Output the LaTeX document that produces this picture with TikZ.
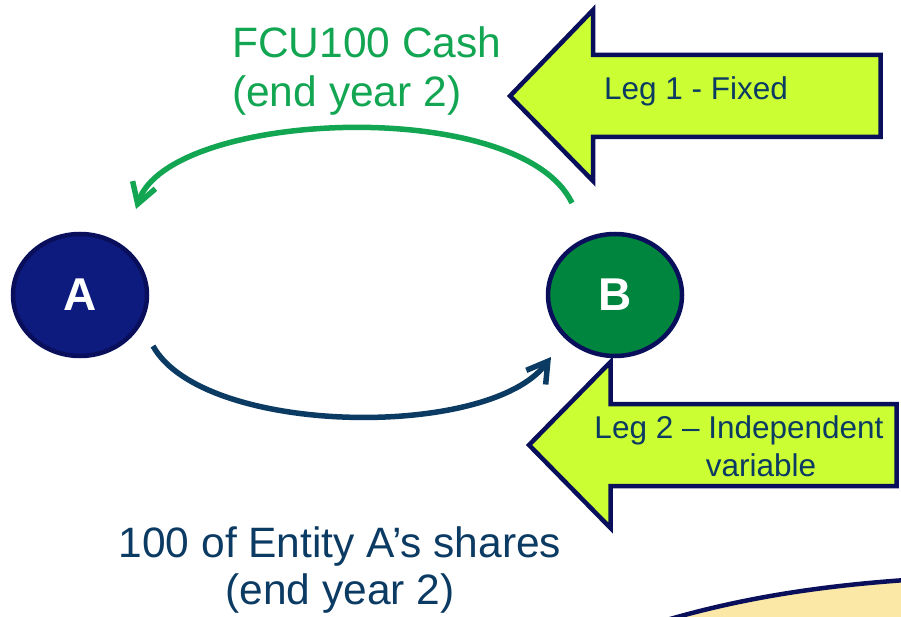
\documentclass[tikz,border=0pt]{standalone}
\usepackage{fontspec}
\setmainfont{Liberation Sans}
\usetikzlibrary{arrows.meta,shapes.geometric}
\definecolor{navyline}{HTML}{0A0F5C}
\definecolor{partyA}{HTML}{0D1A7E}
\definecolor{partyB}{HTML}{00853E}
\definecolor{cashgreen}{HTML}{12A552}
\definecolor{sharesblue}{HTML}{0B3A63}
\definecolor{leglime}{HTML}{CCFF33}
\definecolor{sandfill}{HTML}{FBE8A6}
\tikzset{
  party/.style={ellipse, draw=navyline, line width=4.5pt, minimum width=134pt,
    minimum height=122pt, inner sep=0pt, text=white,
    font=\fontsize{46}{50}\selectfont\bfseries},
  legarrow/.style={draw=navyline, fill=leglime, line width=4.5pt, line join=miter},
  legtext/.style={text=sharesblue, font=\fontsize{31.5}{36}\selectfont, inner sep=0pt},
  flowtext/.style={font=\fontsize{42.5}{48}\selectfont, inner sep=0pt},
  flow/.style={line width=5.5pt, -{Straight Barb[length=20pt,width=24pt,line width=5.5pt]}}
}
\begin{document}
\begin{tikzpicture}[x=1pt,y=-1pt]
\useasboundingbox (0,0) rectangle (901,617);

% corner of the large sand-coloured shape
\begin{scope}
  \clip (0,0) rectangle (901,617);
  \fill[sandfill] (660,622) .. controls (740,598) and (820,586) .. (906,580) -- (906,625) -- cycle;
  \draw[navyline, line width=4.5pt] (660,622) .. controls (740,598) and (820,586) .. (906,580);
\end{scope}

% the two parties
\node[party, fill=partyA] (A) at (80,295) {A};
\node[party, fill=partyB] (B) at (615,295) {B};

% leg block arrows
\draw[legarrow] (510,96) -- (593,10) -- (593,55) -- (880.5,55) -- (880.5,137)
  -- (593,137) -- (593,181) -- cycle;
\node[legtext, anchor=base] (leg1) at (696,100) {Leg 1 - Fixed};

\draw[legarrow] (529,445) -- (610.5,362) -- (610.5,404) -- (896.5,404) -- (896.5,486)
  -- (610.5,486) -- (610.5,528) -- cycle;
\node[legtext, anchor=base] (leg2a) at (739,438) {Leg 2 – Independent};
\node[legtext, anchor=base] (leg2b) at (761,476) {variable};

% cash flow from B to A
\coordinate (cashstart) at (572,203);
\coordinate (cashend) at (136,209);
\draw[flow, cashgreen] (cashstart) .. controls (520,95) and (169,110) .. (cashend);
\node[flowtext, text=cashgreen, anchor=base west] (cash1) at (232,58) {FCU100 Cash};
\node[flowtext, text=cashgreen, anchor=base west] (cash2) at (232,107) {(end year 2)};

% share flow from A to B
\coordinate (sharestart) at (153,346);
\coordinate (shareend) at (551,357);
\draw[flow, sharesblue] (sharestart) .. controls (203,436) and (490,440) .. (shareend);
\node[flowtext, text=sharesblue, anchor=base] (shares1) at (340,557) {100 of Entity A’s shares};
\node[flowtext, text=sharesblue, anchor=base] (shares2) at (340,604) {(end year 2)};
\end{tikzpicture}
\end{document}
